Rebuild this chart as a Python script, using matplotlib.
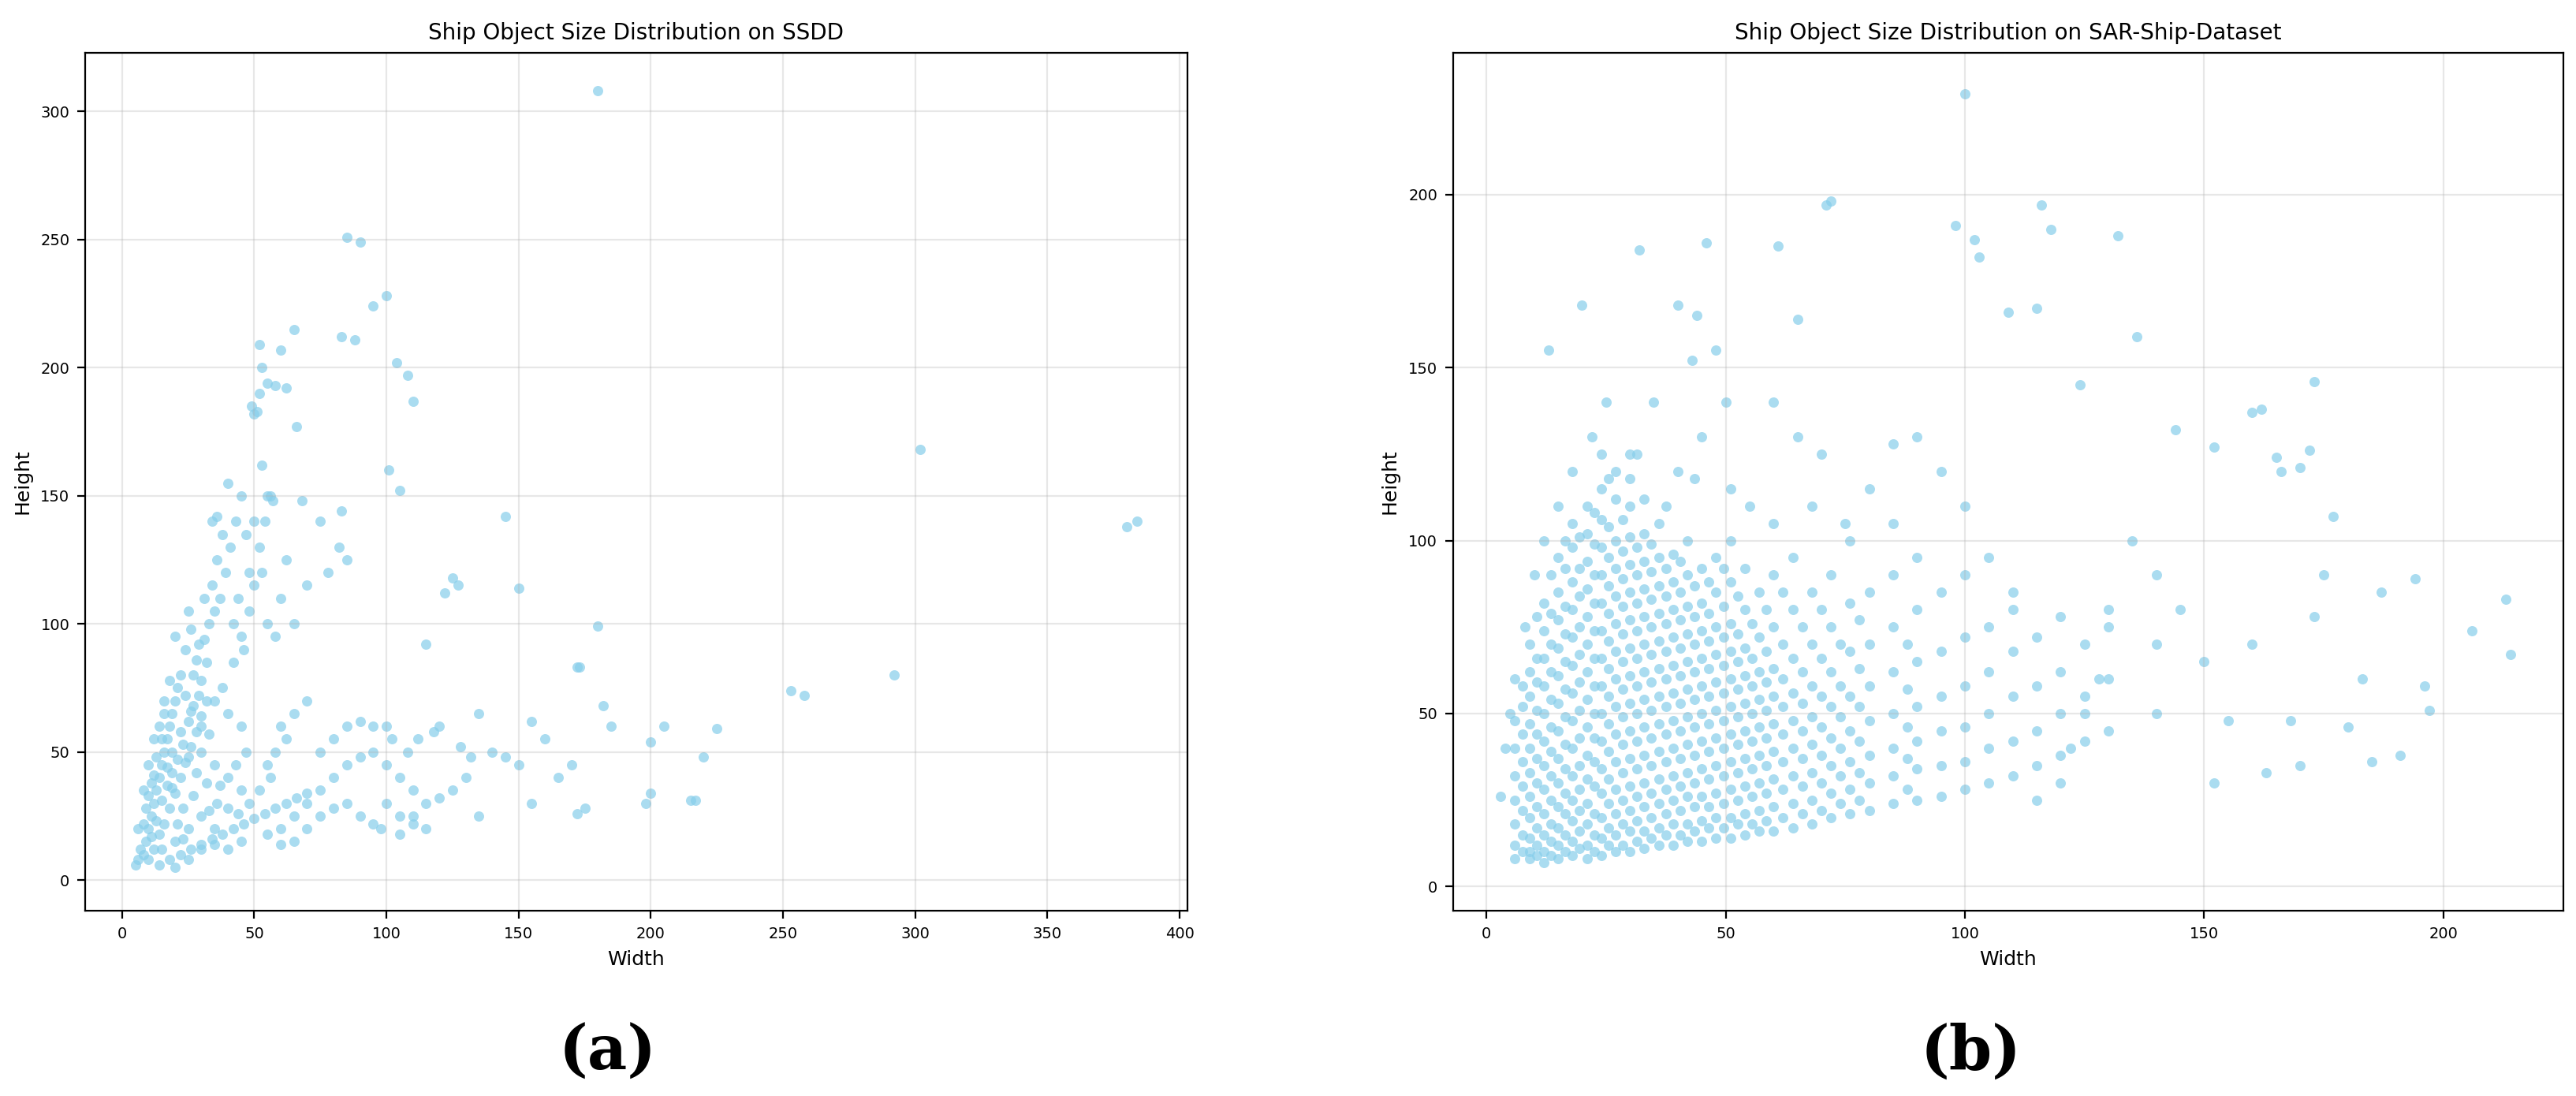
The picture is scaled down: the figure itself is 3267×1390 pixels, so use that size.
import numpy as np
import matplotlib.pyplot as plt

# SSDD (width, height) points
ssdd_pts = [
    (180, 308), (85, 251), (90, 249), (100, 228), (95, 224), (65, 215), (83, 212), (88, 211),
    (104, 202), (60, 207), (52, 209), (108, 197), (55, 194), (58, 193), (62, 192), (110, 187),
    (50, 182), (66, 177), (302, 168), (101, 160), (105, 152), (53, 162), (380, 138), (384, 140),
    (145, 142), (83, 144), (68, 148), (125, 118), (127, 115), (150, 114), (122, 112), (180, 99),
    (115, 92), (253, 74), (258, 72), (292, 80), (172, 83), (173, 83), (182, 68), (185, 60),
    (205, 60), (200, 54), (225, 59), (220, 48), (215, 31), (217, 31), (198, 30), (200, 34),
    (170, 45), (160, 55), (155, 62), (135, 65), (140, 50), (145, 48), (150, 45), (130, 40),
    (135, 25), (155, 30), (165, 40), (175, 28), (172, 26),
    (8, 10), (9, 15), (10, 20), (11, 25), (12, 30), (13, 35), (14, 40), (15, 45), (16, 50),
    (17, 55), (18, 60), (19, 65), (20, 70), (21, 75), (22, 80), (10, 8), (12, 12), (14, 18),
    (16, 22), (18, 28), (20, 34), (22, 40), (24, 46), (26, 52), (28, 58), (30, 64), (32, 70),
    (14, 6), (18, 8), (22, 10), (26, 12), (30, 14), (34, 16), (38, 18), (42, 20), (46, 22),
    (50, 24), (54, 26), (58, 28), (62, 30), (66, 32), (70, 34), (9, 28), (11, 38), (13, 48),
    (15, 55), (17, 44), (19, 36), (21, 22), (23, 16), (25, 62), (27, 68), (29, 72), (31, 94),
    (33, 100), (35, 105), (37, 110), (39, 120), (41, 130), (43, 140), (45, 150), (40, 155),
    (38, 135), (36, 125), (34, 115), (42, 100), (44, 110), (46, 90), (48, 105), (50, 115),
    (52, 130), (54, 140), (56, 150), (50, 140), (52, 190), (51, 183), (49, 185), (53, 200),
    (20, 95), (24, 90), (26, 98), (28, 86), (30, 78), (25, 105), (34, 140), (36, 142),
    (18, 78), (16, 70), (12, 55), (10, 45), (8, 35), (6, 8), (7, 12), (6, 20), (5, 6),
    (60, 20), (65, 25), (70, 30), (75, 35), (80, 40), (85, 45), (90, 48), (95, 50), (100, 45),
    (105, 40), (110, 35), (115, 30), (120, 32), (125, 35), (60, 60), (65, 65), (70, 70),
    (62, 55), (58, 50), (55, 45), (75, 50), (80, 55), (85, 60), (90, 62), (95, 60), (100, 30),
    (105, 25), (110, 22), (95, 22), (90, 25), (85, 30), (80, 28), (75, 25), (70, 20), (65, 15),
    (60, 14), (55, 18), (45, 15), (40, 12), (35, 14), (30, 12), (45, 35), (40, 40), (35, 45),
    (30, 50), (25, 48), (28, 42), (32, 38), (36, 30), (40, 28), (44, 26), (48, 30), (52, 35),
    (56, 40), (45, 60), (40, 65), (35, 70), (30, 60), (55, 100), (58, 95), (60, 110), (65, 100),
    (70, 115), (62, 125), (75, 140), (78, 120), (82, 130), (85, 125), (100, 60), (102, 55),
    (108, 50), (112, 55), (118, 58), (120, 60), (128, 52), (132, 48), (115, 20), (105, 18),
    (98, 20), (110, 25), (30, 25), (35, 20), (20, 15), (25, 20), (15, 12), (20, 5), (25, 8),
    (11, 17), (13, 23), (15, 31), (17, 37), (19, 42), (21, 47), (23, 53), (14, 60), (16, 65),
    (10, 33), (12, 41), (8, 22), (23, 28), (27, 33), (33, 27), (37, 37), (43, 45), (47, 50),
    (33, 57), (38, 75), (42, 85), (45, 95), (48, 120), (47, 135), (32, 85), (27, 80), (24, 72),
    (19, 50), (22, 58), (26, 66), (29, 92), (31, 110), (55, 150), (57, 148), (53, 120),
]

# SAR-Ship-Dataset sparse points
sar_outliers = [
    (100, 229), (116, 197), (72, 198), (71, 197), (98, 191), (118, 190), (132, 188), (61, 185),
    (32, 184), (102, 187), (103, 182), (46, 186), (20, 168), (40, 168), (44, 165), (65, 164),
    (109, 166), (115, 167), (136, 159), (13, 155), (48, 155), (43, 152), (124, 145), (173, 146),
    (162, 138), (160, 137), (144, 132), (152, 127), (177, 107), (165, 124), (166, 120),
    (170, 121), (172, 126), (213, 83), (214, 67), (206, 74), (196, 58), (197, 51), (191, 38),
    (187, 85), (194, 89), (185, 36), (183, 60), (180, 46), (175, 90), (173, 78), (170, 35),
    (168, 48), (163, 33), (160, 70), (155, 48), (152, 30), (150, 65), (145, 80), (140, 90),
    (135, 100), (130, 75), (128, 60), (125, 50), (122, 40), (120, 30), (115, 25), (110, 80),
    (105, 95), (100, 110), (95, 120), (90, 130), (85, 128), (80, 115), (75, 105), (70, 125),
    (65, 130), (60, 140), (55, 110), (50, 140), (45, 130), (40, 120), (35, 140), (30, 125),
    (25, 140), (22, 130), (18, 120), (15, 110), (12, 100), (10, 90), (8, 75), (6, 60),
    (5, 50), (4, 40), (3, 26),
]

# SAR-Ship-Dataset dense part: width column -> heights seen
sar_columns = [
    (6, [8, 12, 18, 25, 32, 40, 48]),
    (7.5, [10, 15, 22, 29, 36, 44, 52, 58]),
    (9, [8, 10, 14, 20, 26, 33, 40, 47, 55, 62, 70]),
    (10.5, [9, 12, 17, 23, 30, 37, 44, 51, 59, 66, 78]),
    (12, [7, 10, 15, 21, 28, 35, 42, 50, 58, 66, 74, 82]),
    (13.5, [9, 13, 18, 25, 32, 39, 46, 54, 62, 70, 79, 90]),
    (15, [8, 12, 17, 23, 30, 37, 45, 53, 61, 69, 77, 85, 95]),
    (16.5, [10, 15, 21, 27, 34, 41, 49, 57, 65, 73, 81, 92, 100]),
    (18, [9, 13, 19, 25, 32, 40, 48, 56, 64, 72, 80, 88, 98, 105]),
    (19.5, [11, 16, 22, 28, 35, 43, 51, 59, 67, 75, 84, 92, 101]),
    (21, [8, 12, 18, 24, 31, 38, 46, 54, 62, 70, 78, 86, 94, 102, 110]),
    (22.5, [10, 15, 21, 29, 36, 43, 50, 58, 66, 74, 82, 90, 99, 108]),
    (24, [9, 14, 20, 27, 34, 42, 50, 58, 66, 74, 82, 90, 98, 106, 115, 125]),
    (25.5, [12, 17, 24, 31, 39, 47, 55, 63, 71, 79, 87, 95, 104, 118]),
    (27, [10, 15, 21, 28, 36, 44, 52, 60, 68, 76, 84, 92, 100, 112, 120]),
    (28.5, [12, 18, 25, 33, 41, 49, 57, 65, 73, 81, 89, 97, 106]),
    (30, [10, 16, 22, 29, 37, 45, 53, 61, 69, 77, 85, 93, 101, 110, 118]),
    (31.5, [13, 19, 26, 34, 42, 50, 58, 66, 74, 82, 90, 98, 125]),
    (33, [11, 16, 23, 30, 38, 46, 54, 62, 70, 78, 86, 94, 102, 112]),
    (34.5, [14, 20, 27, 35, 43, 51, 59, 67, 75, 83, 91, 99]),
    (36, [12, 17, 24, 31, 39, 47, 55, 63, 71, 79, 87, 95, 105]),
    (37.5, [15, 21, 28, 36, 44, 52, 60, 68, 76, 84, 92, 110]),
    (39, [12, 18, 25, 32, 40, 48, 56, 64, 72, 80, 88, 96]),
    (40.5, [15, 22, 29, 37, 45, 53, 61, 69, 77, 85, 94]),
    (42, [13, 18, 26, 33, 41, 49, 57, 65, 73, 81, 90, 100]),
    (43.5, [16, 23, 30, 38, 46, 54, 62, 70, 78, 87, 118]),
    (45, [13, 19, 26, 34, 42, 50, 58, 66, 74, 82, 92]),
    (46.5, [17, 23, 31, 39, 47, 55, 63, 71, 79, 88]),
    (48, [14, 20, 27, 35, 43, 51, 59, 67, 75, 85, 95]),
    (49.5, [17, 24, 32, 40, 48, 56, 64, 72, 81, 92]),
    (51, [14, 20, 28, 36, 44, 52, 60, 68, 76, 88, 100, 115]),
    (52.5, [18, 25, 33, 41, 49, 57, 65, 73, 84]),
    (54, [15, 21, 29, 37, 45, 53, 61, 69, 80, 92]),
    (55.5, [18, 26, 34, 42, 50, 58, 66, 76]),
    (57, [16, 22, 30, 38, 46, 54, 62, 72, 85]),
    (58.5, [19, 27, 35, 43, 51, 59, 68, 80]),
    (60, [16, 23, 31, 39, 47, 55, 63, 75, 90, 105]),
    (62, [20, 28, 36, 44, 52, 60, 70, 85]),
    (64, [17, 24, 32, 40, 48, 56, 66, 80, 95]),
    (66, [21, 29, 37, 45, 53, 62, 75]),
    (68, [18, 25, 33, 41, 49, 58, 70, 85, 110]),
    (70, [22, 30, 38, 46, 55, 66, 80]),
    (72, [20, 27, 35, 43, 52, 62, 75, 90]),
    (74, [24, 32, 40, 49, 58, 70]),
    (76, [21, 28, 36, 45, 55, 68, 82, 100]),
    (78, [25, 33, 42, 52, 63, 77]),
    (80, [22, 30, 38, 48, 58, 70, 85]),
    (85, [24, 32, 40, 50, 62, 75, 90, 105]),
    (88, [28, 37, 46, 57, 70]),
    (90, [25, 34, 42, 52, 65, 80, 95]),
    (95, [26, 35, 45, 55, 68, 85]),
    (100, [28, 36, 46, 58, 72, 90]),
    (105, [30, 40, 50, 62, 75]),
    (110, [32, 42, 55, 68, 85]),
    (115, [35, 45, 58, 72]),
    (120, [38, 50, 62, 78]),
    (125, [42, 55, 70]),
    (130, [45, 60, 80]),
    (140, [50, 70]),
]

ssdd_w, ssdd_h = np.array(ssdd_pts).T
sar_pts = sar_outliers + [(w, h) for w, hs in sar_columns for h in hs]
sar_w, sar_h = np.array(sar_pts).T

fig = plt.figure(figsize=(16.335, 6.95), dpi=200)
ax1 = fig.add_axes([0.033, 0.169, 0.428, 0.783])
ax2 = fig.add_axes([0.564, 0.169, 0.431, 0.783])

for ax, w, h, title in [(ax1, ssdd_w, ssdd_h, 'Ship Object Size Distribution on SSDD'),
                        (ax2, sar_w, sar_h, 'Ship Object Size Distribution on SAR-Ship-Dataset')]:
    ax.scatter(w, h, s=22, color='skyblue', alpha=0.7, linewidths=0)
    ax.set_title(title, fontsize=10)
    ax.set_xlabel('Width', fontsize=9)
    ax.set_ylabel('Height', fontsize=9)
    ax.tick_params(labelsize=7)
    ax.grid(True, alpha=0.3)

ax1.set_xlim(-14, 403)
ax1.set_ylim(-12, 323)
ax2.set_xlim(-7, 225)
ax2.set_ylim(-7, 241)

fig.text(0.236, 0.04, '(a)', ha='center', va='center', fontsize=28, fontweight='bold', family='DejaVu Serif')
fig.text(0.765, 0.04, '(b)', ha='center', va='center', fontsize=28, fontweight='bold', family='DejaVu Serif')

fig.savefig('out.png')
